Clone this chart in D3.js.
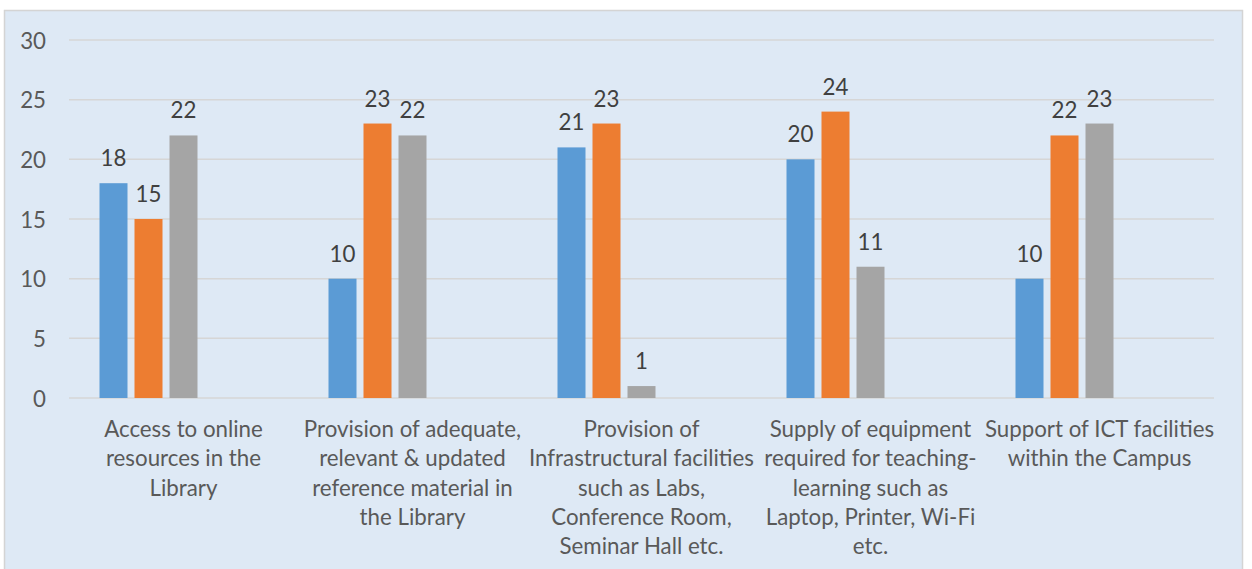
<!DOCTYPE html>
<html>
<head>
<meta charset="utf-8">
<script src="https://cdn.jsdelivr.net/npm/d3@7"></script>
<style>
  html, body { margin: 0; padding: 0; background: #ffffff; }
  svg { display: block; }
</style>
</head>
<body>
<svg id="chart" width="1252" height="569"></svg>
<script>
const categories = [
  ["Access to online", "resources in the", "Library"],
  ["Provision of adequate,", "relevant & updated", "reference material in", "the Library"],
  ["Provision of", "Infrastructural facilities", "such as Labs,", "Conference Room,", "Seminar Hall etc."],
  ["Supply of equipment", "required for teaching-", "learning such as", "Laptop, Printer, Wi-Fi", "etc."],
  ["Support of ICT facilities", "within the Campus"]
];
const seriesNames = ["Series1", "Series2", "Series3", "Series4", "Series5"];
const series1 = [18, 10, 21, 20, 10];
const series2 = [15, 23, 23, 24, 22];
const series3 = [22, 22, 1, 11, 23];
const series4 = [null, null, null, null, null];
const series5 = [null, null, null, null, null];
const yTicks = [0, 5, 10, 15, 20, 25, 30];

const allSeries = [series1, series2, series3, series4, series5];
const colors = ["#5b9bd5", "#ed7d31", "#a5a5a5", "#ffc000", "#4472c4"];

const svg = d3.select("#chart");
const font = "Lato, 'Open Sans', sans-serif";
const fs = 22.3;

// chart area background
svg.append("rect")
  .attr("x", 4.5).attr("y", 10.5)
  .attr("width", 1238).attr("height", 570)
  .attr("fill", "#dee9f5")
  .attr("stroke", "#d4d4d4").attr("stroke-width", 1.5);

const plot = { left: 69, right: 1214, top: 40, bottom: 398 };

const x0 = d3.scaleBand()
  .domain(d3.range(categories.length))
  .range([plot.left, plot.right])
  .paddingInner(0).paddingOuter(0);

const x1 = d3.scaleBand()
  .domain(d3.range(seriesNames.length))
  .range([30.5, x0.bandwidth() - 30.5])
  .paddingInner(0.2);

const y = d3.scaleLinear().domain([0, 30]).range([plot.bottom, plot.top]);

// gridlines
svg.append("g")
  .selectAll("line")
  .data(yTicks)
  .join("line")
  .attr("x1", plot.left).attr("x2", plot.right)
  .attr("y1", d => y(d)).attr("y2", d => y(d))
  .attr("stroke", "#d6d6d6").attr("stroke-width", 1.5);

// y axis labels
const yAxis = d3.axisLeft(y).tickValues(yTicks).tickSize(0).tickPadding(0);
const yg = svg.append("g").attr("transform", `translate(46,0)`).call(yAxis);
yg.select(".domain").remove();
yg.selectAll("text")
  .attr("font-family", font).attr("font-size", fs)
  .attr("fill", "#595959").attr("dy", "0.36em");

// bars
const groups = svg.append("g")
  .selectAll("g")
  .data(categories.map((c, i) => i))
  .join("g")
  .attr("transform", i => `translate(${x0(i)},0)`);

groups.selectAll("rect")
  .data(i => allSeries.map((s, k) => ({ k, v: s[i] })).filter(d => d.v != null))
  .join("rect")
  .attr("x", d => x1(d.k))
  .attr("width", x1.bandwidth())
  .attr("y", d => y(d.v))
  .attr("height", d => y(0) - y(d.v))
  .attr("fill", d => colors[d.k]);

groups.selectAll("text.val")
  .data(i => allSeries.map((s, k) => ({ k, v: s[i] })).filter(d => d.v != null))
  .join("text")
  .attr("class", "val")
  .attr("x", d => x1(d.k) + x1.bandwidth() / 2)
  .attr("y", d => y(d.v) - 17)
  .attr("text-anchor", "middle")
  .attr("font-family", font).attr("font-size", fs)
  .attr("fill", "#404040")
  .text(d => d.v);

// category labels
groups.append("text")
  .attr("text-anchor", "middle")
  .attr("font-family", font).attr("font-size", fs)
  .attr("fill", "#595959")
  .selectAll("tspan")
  .data(i => categories[i])
  .join("tspan")
  .attr("x", x0.bandwidth() / 2)
  .attr("y", (d, j) => 437 + j * 29.3)
  .text(d => d);
</script>
</body>
</html>
